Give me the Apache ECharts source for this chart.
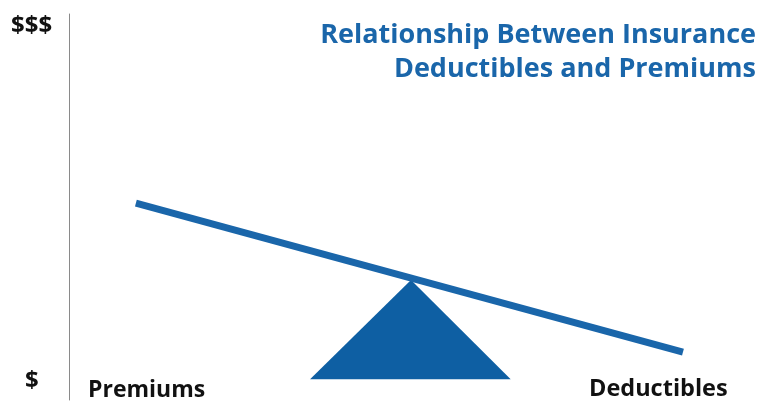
<!DOCTYPE html>
<html>
<head>
<meta charset="utf-8">
<script src="https://cdn.jsdelivr.net/npm/echarts@6/dist/echarts.min.js"></script>
<style>
  html, body { margin: 0; padding: 0; background: #fff; }
  #chart { width: 761px; height: 402px; }
</style>
</head>
<body>
<div id="chart"></div>
<script>
// seesaw beam (x, y) in chart units
const beamX = [10.6, 97.3];
const beamY = [51.0, 12.4];
// fulcrum triangle corners
const fulcrumX = [38.2, 54.2, 70.0];
const fulcrumY = [5.4, 31.1, 5.4];
const yLabels = ['$', '$$$'];
const xLabels = ['Premiums', 'Deductibles'];
const titleLines = ['Relationship Between Insurance', 'Deductibles and Premiums'];

const BLUE = '#1a66aa';
const FONT = '"Open Sans", sans-serif';

const chart = echarts.init(document.getElementById('chart'));

function label(text, x, y, size) {
  return {
    type: 'text',
    style: {
      text: text, x: x, y: y,
      align: 'left', verticalAlign: 'middle',
      font: 'bold ' + size + 'px ' + FONT,
      fill: '#111'
    }
  };
}

chart.setOption({
  animation: false,
  grid: { left: 69, right: 61, top: 14, bottom: 2 },
  xAxis: {
    type: 'value', min: 0, max: 100,
    axisLine: { show: false }, axisTick: { show: false },
    axisLabel: { show: false }, splitLine: { show: false }
  },
  yAxis: {
    type: 'value', min: 0, max: 100,
    axisLine: { show: true, lineStyle: { color: '#8a8a8a', width: 1 } },
    axisTick: { show: false }, axisLabel: { show: false }, splitLine: { show: false }
  },
  graphic: [
    {
      type: 'text',
      style: {
        text: titleLines.join('\n'),
        x: 756, y: 18,
        align: 'right', verticalAlign: 'top',
        font: 'bold 27px ' + FONT,
        lineHeight: 34,
        fill: BLUE
      }
    },
    label(yLabels[1], 11, 26, 24),
    label(yLabels[0], 25, 381, 24),
    label(xLabels[0], 88, 390, 23),
    label(xLabels[1], 589, 389, 23.5)
  ],
  series: [
    {
      type: 'custom',
      renderItem: function (params, api) {
        if (params.dataIndex !== 0) return;
        const pts = fulcrumX.map((x, i) => api.coord([x, fulcrumY[i]]));
        return {
          type: 'polygon',
          shape: { points: pts },
          style: { fill: '#0e5fa3' }
        };
      },
      data: fulcrumX.map((x, i) => [x, fulcrumY[i]])
    },
    {
      type: 'line',
      data: beamX.map((x, i) => [x, beamY[i]]),
      symbol: 'none',
      lineStyle: { color: BLUE, width: 7, cap: 'butt' }
    }
  ]
});
</script>
</body>
</html>
